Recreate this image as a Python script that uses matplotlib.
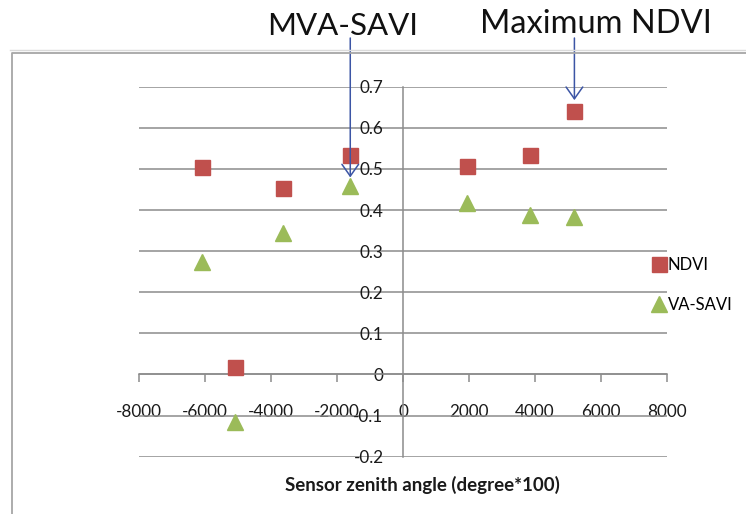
import matplotlib
matplotlib.use("Agg")
import matplotlib.pyplot as plt
from matplotlib.lines import Line2D

# sensor zenith angle (degree*100), shared by both series
ANGLE = [-6100, -3650, -1600, 1950, 3850, 5200, -5100]
NDVI = [0.504, 0.454, 0.534, 0.507, 0.534, 0.642, 0.019]
VA_SAVI = [0.274, 0.343, 0.459, 0.418, 0.387, 0.384, -0.115]

X_TICKS = [-8000, -6000, -4000, -2000, 0, 2000, 4000, 6000, 8000]
Y_TICKS = [-0.2, -0.1, 0, 0.1, 0.2, 0.3, 0.4, 0.5, 0.6, 0.7]

RED = "#C0504D"
GREEN = "#9BBB59"
GRID = "#8C8C8C"
ARROW = "#3C55A5"

W, H = 746, 514


def fx(px):
    return px / W


def fy(py):
    return 1 - py / H


def main():
    plt.rcParams["font.family"] = ["Lato", "DejaVu Sans"]
    fig = plt.figure(figsize=(W / 100, H / 100), dpi=100)

    # outer chart-area border (cut off on the right and bottom)
    fig.add_artist(Line2D([fx(10), 1.0], [fy(50), fy(50)], transform=fig.transFigure,
                          color="#DADADA", lw=1.0))
    fig.add_artist(Line2D([fx(12), fx(12), 1.0], [0.0, fy(53), fy(53)], transform=fig.transFigure,
                          color="#A6A6A6", lw=1.3))

    ax = fig.add_axes([fx(139.3), fy(456.7), (666.7 - 139.3) / W, (456.7 - 86.7) / H])

    ax.plot(ANGLE, NDVI, ls="none", marker="s", markersize=10.8, color=RED,
            markeredgecolor=RED, label="NDVI", zorder=3, clip_on=False)
    ax.plot(ANGLE, VA_SAVI, ls="none", marker="^", markersize=11.5, color=GREEN,
            markeredgecolor=GREEN, label="VA-SAVI", zorder=3, clip_on=False)

    ax.set_xlim(-8000, 8000)
    ax.set_ylim(-0.2, 0.7)
    ax.set_xticks(X_TICKS)
    ax.set_xticklabels([str(v) for v in X_TICKS])
    ax.set_yticks(Y_TICKS)
    ax.set_yticklabels([f"{v:g}" for v in Y_TICKS])

    ax.spines["left"].set_position(("data", 0))
    ax.spines["bottom"].set_position(("data", 0))
    ax.spines["top"].set_visible(False)
    ax.spines["right"].set_visible(False)
    for side in ("left", "bottom"):
        ax.spines[side].set_color(GRID)
        ax.spines[side].set_linewidth(1.1)

    ax.grid(True, axis="y", color=GRID, linewidth=1.1)
    ax.set_axisbelow(True)
    ax.tick_params(axis="x", direction="out", length=6, width=1.1, color=GRID,
                   pad=15.5, labelsize=12.3, labelcolor="#1a1a1a")
    ax.tick_params(axis="y", length=0, pad=14, labelsize=12.3, labelcolor="#1a1a1a")

    fig.text(fx(422), fy(485), "Sensor zenith angle (degree*100)", ha="center", va="center",
             fontsize=13.5, fontweight="bold", color="#1a1a1a")

    ax.legend(loc="center left", bbox_to_anchor=(fx(645), fy(285)), bbox_transform=fig.transFigure,
              frameon=False, numpoints=1, handlelength=0.7, handletextpad=0.15,
              labelspacing=1.45, fontsize=12, borderpad=0)

    # callouts above the plot
    fig.text(fx(343), fy(35), "MVA-SAVI", ha="center", va="baseline", fontsize=22.5, color="#111111")
    fig.text(fx(596), fy(33), "Maximum NDVI", ha="center", va="baseline", fontsize=23.5, color="#111111")

    arrow = dict(arrowstyle="->,head_length=0.85,head_width=0.6", color=ARROW, lw=1.1,
                 shrinkA=0, mutation_scale=10)
    ax.annotate("", xy=(ANGLE[2], VA_SAVI[2]), xycoords="data",
                xytext=(ANGLE[2], fy(38)), textcoords=("data", "figure fraction"),
                arrowprops=dict(arrow, shrinkB=6), annotation_clip=False)
    ax.annotate("", xy=(ANGLE[5], NDVI[5]), xycoords="data",
                xytext=(ANGLE[5], fy(38)), textcoords=("data", "figure fraction"),
                arrowprops=dict(arrow, shrinkB=7.5), annotation_clip=False)

    fig.savefig("out.png", dpi=100)
    plt.close(fig)


if __name__ == "__main__":
    main()
